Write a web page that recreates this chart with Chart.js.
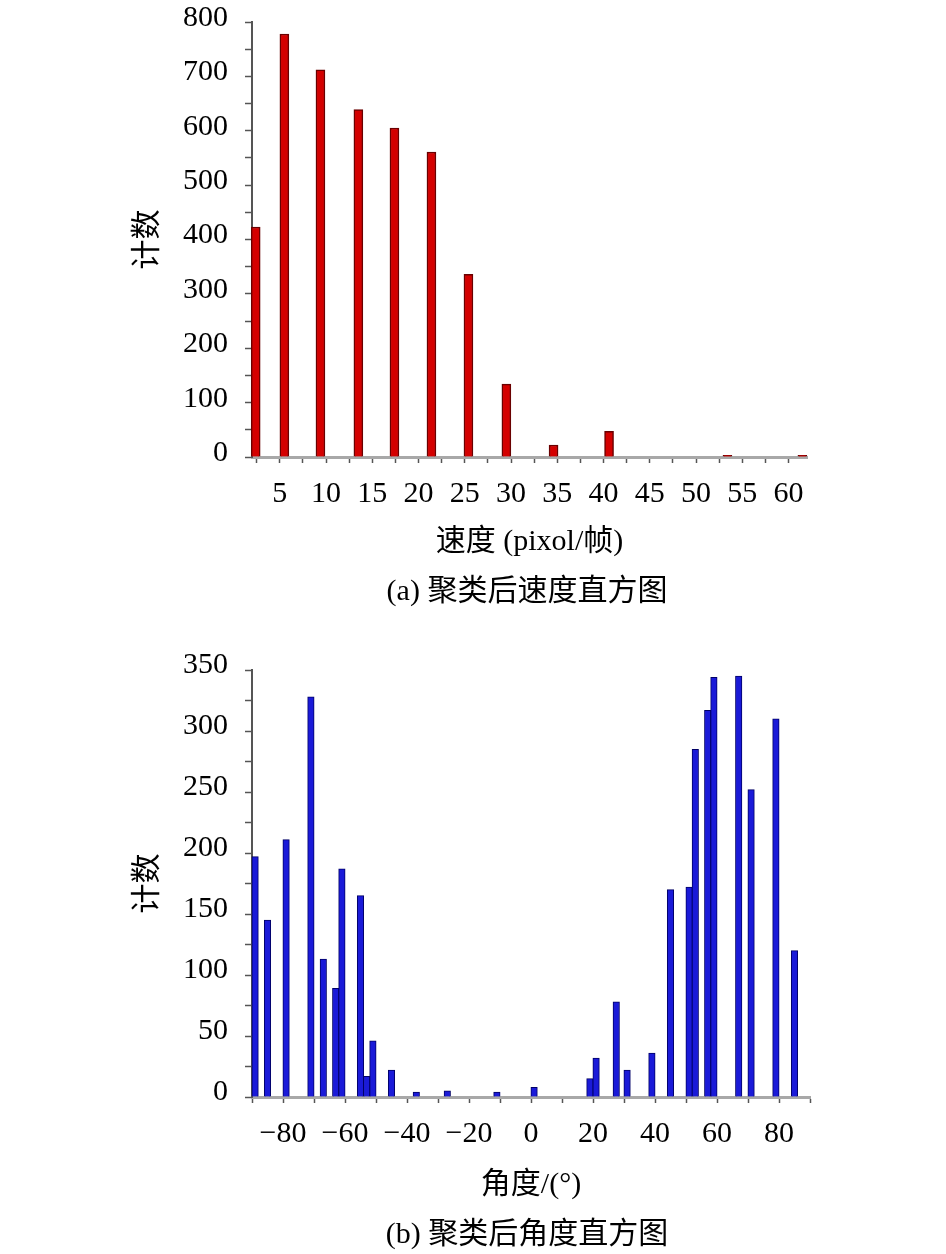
<!DOCTYPE html>
<html>
<head>
<meta charset="utf-8">
<script src="https://cdn.jsdelivr.net/npm/chart.js@4.4.1/dist/chart.umd.min.js"></script>
<style>
  html, body { margin: 0; padding: 0; background: #fff; }
  body { width: 946px; height: 1254px; position: relative; overflow: hidden; }
  canvas { position: absolute; left: 0; }
  #c1 { top: -13px; }
  #c2 { top: 620px; }
  .cap { position: absolute; left: 127px; width: 800px; text-align: center;
         font-family: 'Liberation Serif', 'Noto Sans CJK SC', serif; font-size: 30px;
         line-height: 36px; color: #000; }
</style>
</head>
<body>
<canvas id="c1" width="946" height="633"></canvas>
<canvas id="c2" width="946" height="634"></canvas>
<div class="cap" style="top:572px;">(a) 聚类后速度直方图</div>
<div class="cap" style="top:1215px;">(b) 聚类后角度直方图</div>
<script>
// ---- Data: (a) speed histogram ----
const speedBins   = [2.4, 5.5, 9.4, 13.5, 17.4, 21.4, 25.4, 29.5, 34.6, 40.6, 53.4, 61.5];
const speedCounts = [423, 778, 712, 639, 605, 561, 336, 134, 22, 47, 3, 3];
const speedTitle  = '速度 (pixol/帧)';

// ---- Data: (b) angle histogram ----
const angleBins   = [-89, -85, -79, -71, -67, -63, -61, -55, -53, -51, -45, -37, -27, -11, 1,
                     19, 21, 27.5, 31, 39, 45, 51, 53, 57, 59, 67, 71, 79, 85];
const angleCounts = [197, 145, 211, 328, 113, 89, 187, 165, 17, 46, 22, 4, 5, 4, 8,
                     15, 32, 78, 22, 36, 170, 172, 285, 317, 344, 345, 252, 310, 120];
const angleTitle  = '角度/(°)';
const countTitle  = '计数';

const FONT = "'Liberation Serif', 'Noto Sans CJK SC', serif";
const f30 = { family: FONT, size: 30, lineHeight: 1.2 };

function stepTicks(step) {
  return function (scale) {
    const out = [];
    const lo = Math.ceil(scale.min / step - 1e-9);
    const hi = Math.floor(scale.max / step + 1e-9);
    for (let k = lo; k <= hi; k++) out.push({ value: +(k * step).toFixed(6) });
    scale.ticks = out;
  };
}
function isMult(v, s) { return Math.abs(v / s - Math.round(v / s)) < 1e-6; }

function makeChart(id, xs, ys, cfg) {
  return new Chart(document.getElementById(id), {
    type: 'bar',
    data: {
      datasets: [{
        data: xs.map((x, i) => ({ x: x, y: ys[i] })),
        backgroundColor: cfg.fill,
        borderColor: cfg.edge,
        borderWidth: cfg.edgeW,
        barThickness: cfg.barW,
        clip: 6
      }]
    },
    options: {
      responsive: false,
      animation: false,
      devicePixelRatio: 1,
      layout: { padding: { left: 0, right: cfg.padRight, top: cfg.padTop, bottom: 0 } },
      plugins: { legend: { display: false }, tooltip: { enabled: false } },
      scales: {
        x: {
          type: 'linear',
          min: cfg.xMin, max: cfg.xMax,
          offset: false,
          afterBuildTicks: stepTicks(cfg.xStep),
          afterFit: s => { s.height = cfg.xAxisH; },
          ticks: {
            autoSkip: false,
            maxRotation: 0,
            color: '#000',
            font: f30,
            padding: 13,
            callback: v => isMult(v, cfg.xLabelStep)
                ? (v < 0 ? '\u2212' + Math.abs(v) : String(v)) : ''
          },
          grid: { offset: false, drawOnChartArea: false, drawTicks: true, tickLength: 6,
                  tickColor: '#555', tickWidth: 1.5 },
          border: { display: true, color: '#a8a8a8', width: 3 },
          title: { display: true, text: cfg.xTitle, color: '#000', font: f30,
                   padding: { top: 0, bottom: cfg.xTitlePad } }
        },
        y: {
          type: 'linear',
          min: 0, max: cfg.yMax,
          afterBuildTicks: stepTicks(cfg.yStep),
          afterFit: s => { s.width = 252; },
          ticks: {
            autoSkip: false,
            color: '#000',
            font: f30,
            padding: 17,
            labelOffset: cfg.yLabelOffset,
            callback: v => isMult(v, cfg.yLabelStep) ? String(v) : ''
          },
          grid: { drawOnChartArea: false, drawTicks: true, tickLength: 7,
                  tickColor: '#555', tickWidth: 1.5 },
          border: { display: true, color: '#555', width: 2 },
          title: { display: true, text: countTitle, color: '#000', font: f30,
                   padding: { top: 130, bottom: 0 } }
        }
      }
    }
  });
}

makeChart('c1', speedBins, speedCounts, {
  fill: '#d40000', edge: '#6a0000', edgeW: 1.5, barW: 9,
  padRight: 139, padTop: 0,
  xMin: 2, xMax: 62, xStep: 2.5, xLabelStep: 5, xAxisH: 163, xTitle: speedTitle, xTitlePad: 60,
  yMax: 800, yStep: 50, yLabelStep: 100, yLabelOffset: -4
});

makeChart('c2', angleBins, angleCounts, {
  fill: '#1a1ad8', edge: '#000066', edgeW: 1, barW: 6.5,
  padRight: 136, padTop: 50,
  xMin: -90, xMax: 90, xStep: 10, xLabelStep: 20, xAxisH: 157, xTitle: angleTitle, xTitlePad: 51,
  yMax: 350, yStep: 25, yLabelStep: 50, yLabelOffset: -5
});
</script>
</body>
</html>
